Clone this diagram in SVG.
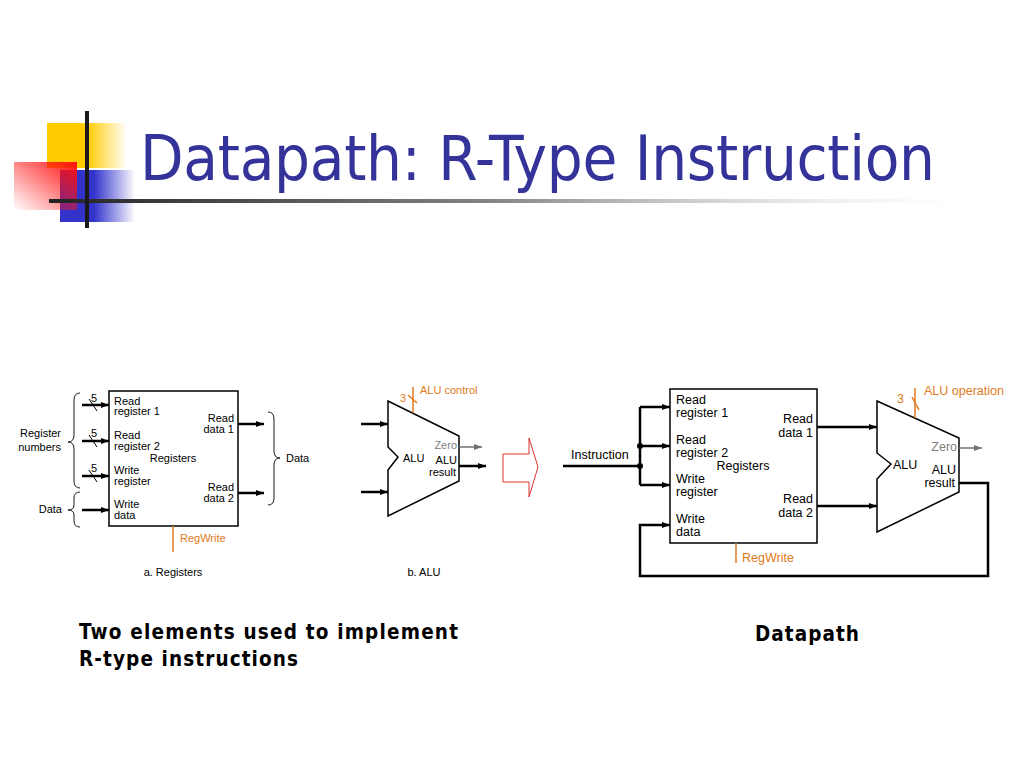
<svg xmlns="http://www.w3.org/2000/svg" width="1024" height="768" viewBox="0 0 1024 768">
<defs>
<linearGradient id="gY" x1="0" y1="0" x2="1" y2="0"><stop offset="0" stop-color="#FFCC00"/><stop offset="0.5" stop-color="#FFCC00"/><stop offset="1" stop-color="#FFCC00" stop-opacity="0"/></linearGradient>
<linearGradient id="gB" x1="0" y1="0" x2="1" y2="0"><stop offset="0" stop-color="#3333CC"/><stop offset="0.45" stop-color="#3333CC"/><stop offset="1" stop-color="#3333CC" stop-opacity="0"/></linearGradient>
<linearGradient id="gR" x1="1" y1="0" x2="0" y2="1"><stop offset="0" stop-color="#FF1010"/><stop offset="1" stop-color="#FF1010" stop-opacity="0"/></linearGradient>
<linearGradient id="gL" x1="0" y1="0" x2="1" y2="0"><stop offset="0" stop-color="#222222"/><stop offset="0.5" stop-color="#888888"/><stop offset="1" stop-color="#DDDDDD" stop-opacity="0"/></linearGradient>
<marker id="ah" viewBox="0 0 8 6" refX="8" refY="3" markerWidth="8" markerHeight="6" markerUnits="userSpaceOnUse" orient="auto"><path d="M0,0 L8,3 L0,6 z" fill="#000"/></marker>
<marker id="ahg" viewBox="0 0 8 6" refX="8" refY="3" markerWidth="8" markerHeight="6" markerUnits="userSpaceOnUse" orient="auto"><path d="M0,0 L8,3 L0,6 z" fill="#707070"/></marker>
</defs>
<style>
.t{font-family:"Liberation Sans",Arial,sans-serif;font-size:11px;fill:#000}
.t2{font-family:"Liberation Sans",Arial,sans-serif;font-size:12.5px;fill:#000}
.o{fill:#E07A20}
.g{fill:#808080}
.r{text-anchor:end}
.m{text-anchor:middle}
.box{fill:#fff;stroke:#000;stroke-width:1.5}
.w{fill:none;stroke:#000;stroke-width:2.5}
.wa{fill:none;stroke:#000;stroke-width:2.5;marker-end:url(#ah)}
.ga{fill:none;stroke:#707070;stroke-width:1.5;marker-end:url(#ahg)}
.ol{fill:none;stroke:#E07A20;stroke-width:1.5}
.thin{fill:none;stroke:#000;stroke-width:1}
.br{fill:none;stroke:#000;stroke-width:0.9}
.b{font-family:"DejaVu Sans Condensed","DejaVu Sans",Verdana,sans-serif;font-stretch:condensed;font-weight:bold;font-size:20.5px;fill:#000}
</style>
<rect width="1024" height="768" fill="#fff"/>
<g id="logo">
<rect x="47" y="123" width="80" height="45" fill="url(#gY)"/>
<rect x="60" y="170" width="75" height="52" fill="url(#gB)"/>
<rect x="14" y="162" width="63" height="48" fill="url(#gR)"/>
<rect x="49" y="199" width="911" height="4" fill="url(#gL)"/>
<rect x="85" y="111" width="4" height="117" fill="#1a1a1a"/>
</g>
<text id="title" x="140" y="180" font-family="DejaVu Sans Condensed, DejaVu Sans, Verdana, sans-serif" font-stretch="condensed" font-size="63" fill="#333399" textLength="795" lengthAdjust="spacing">Datapath: R-Type Instruction</text>

<g id="registers-a">
<rect class="box" x="109" y="391" width="129" height="135"/>
<text class="t" x="114" y="405">Read</text>
<text class="t" x="114" y="415">register 1</text>
<text class="t" x="114" y="439">Read</text>
<text class="t" x="114" y="450">register 2</text>
<text class="t" x="114" y="474">Write</text>
<text class="t" x="114" y="485">register</text>
<text class="t" x="114" y="508">Write</text>
<text class="t" x="114" y="519">data</text>
<text class="t m" x="173" y="462">Registers</text>
<text class="t r" x="234" y="422">Read</text>
<text class="t r" x="234" y="433">data 1</text>
<text class="t r" x="234" y="491">Read</text>
<text class="t r" x="234" y="502">data 2</text>
</g>
<g id="labels-a">
<text class="t r" x="61" y="437">Register</text>
<text class="t r" x="61" y="451">numbers</text>
<text class="t r" x="62" y="513">Data</text>
<text class="t" x="286" y="462">Data</text>
<text class="t" x="91" y="402">5</text>
<text class="t" x="91" y="437">5</text>
<text class="t" x="91" y="472">5</text>
<text class="t o" x="180" y="542">RegWrite</text>
<text class="t m" x="173" y="576">a. Registers</text>
<path class="br" d="M80,393 Q74,393 74,400 L74,435 Q74,442 68,442 Q74,442 74,449 L74,481 Q74,488 80,488"/>
<path class="br" d="M80,492 Q74,492 74,498 L74,505 Q74,510 68,510 Q74,510 74,515 L74,521 Q74,527 80,527"/>
<path class="br" d="M268,412 Q274,412 274,419 L274,451 Q274,458 280,458 Q274,458 274,465 L274,498 Q274,505 268,505"/>
</g>

<g id="alu-b">
<path class="box" d="M388,401 L459,436 L459,481 L388,516 L388,470 L398,457 L388,447 Z"/>
<text class="t" x="403" y="462">ALU</text>
<text class="t r" x="457" y="464">ALU</text>
<text class="t r" x="456" y="476">result</text>
<text class="t r g" x="457" y="449">Zero</text>
<text class="t o" x="400" y="402">3</text>
<text class="t o" x="420" y="394">ALU control</text>
<text class="t m" x="424" y="576">b. ALU</text>
</g>

<g id="bigarrow">
<path d="M503,454 L529,454 L529,438 L538,467 L529,497 L529,482 L503,482 Z" fill="#fff" stroke="#E03030" stroke-width="1"/>
</g>

<g id="registers-dp">
<rect class="box" x="670" y="389" width="147" height="154"/>
<text class="t2" x="676" y="404">Read</text>
<text class="t2" x="676" y="417">register 1</text>
<text class="t2" x="676" y="444">Read</text>
<text class="t2" x="676" y="457">register 2</text>
<text class="t2" x="676" y="483">Write</text>
<text class="t2" x="676" y="496">register</text>
<text class="t2" x="676" y="523">Write</text>
<text class="t2" x="676" y="536">data</text>
<text class="t2 m" x="743" y="470">Registers</text>
<text class="t2 r" x="813" y="423">Read</text>
<text class="t2 r" x="813" y="437">data 1</text>
<text class="t2 r" x="813" y="503">Read</text>
<text class="t2 r" x="813" y="517">data 2</text>
<text class="t2 o" x="742" y="562">RegWrite</text>
</g>

<g id="alu-dp">
<path class="box" d="M877,401 L959,438 L959,492 L877,532 L877,479 L891,464 L877,453 Z"/>
<text class="t2" x="893" y="469">ALU</text>
<text class="t2 r" x="956" y="474">ALU</text>
<text class="t2 r" x="955" y="487">result</text>
<text class="t2 r g" x="957" y="451">Zero</text>
<text class="t2 o" x="897" y="403">3</text>
<text class="t2 o" x="924" y="395">ALU operation</text>
</g>

<text id="instr" class="t2" x="571" y="459">Instruction</text>

<g id="connectors">
<path class="wa" d="M82,405 H109"/>
<path class="wa" d="M82,441 H109"/>
<path class="wa" d="M82,476 H109"/>
<path class="wa" d="M82,510 H109"/>
<path class="thin" d="M89,399 L97,411"/>
<path class="thin" d="M89,435 L97,447"/>
<path class="thin" d="M89,470 L97,482"/>
<path class="wa" d="M238,424 H264"/>
<path class="wa" d="M238,493 H264"/>
<path class="ol" d="M173,526 V552"/>

<path class="wa" d="M361,424 H388"/>
<path class="wa" d="M361,492 H388"/>
<path class="ol" d="M413,387 V413"/>
<path class="ol" d="M408,395 L417,403"/>
<path class="ga" d="M459,447 H482"/>
<path class="wa" d="M459,466 H486"/>

<path class="w" d="M563,466 H640"/>
<path class="w" d="M640,407 V485"/>
<path class="wa" d="M640,407 H670"/>
<path class="wa" d="M640,446 H670"/>
<path class="wa" d="M640,485 H670"/>
<circle cx="640" cy="446" r="3" fill="#000"/>
<circle cx="640" cy="466" r="3" fill="#000"/>
<path class="wa" d="M959,483 H988 V576 H640 V525 H670"/>
<path class="wa" d="M817,427 H877"/>
<path class="wa" d="M817,506 H877"/>
<path class="ga" d="M959,448 H982"/>
<path class="ol" d="M736,543 V563"/>
<path class="ol" d="M915,388 V418"/>
<path class="ol" d="M912,397 L919,410"/>
</g>

<g id="captions">
<text class="b" x="79" y="639" textLength="379" lengthAdjust="spacing">Two elements used to implement</text>
<text class="b" x="79" y="666" textLength="219" lengthAdjust="spacing">R-type instructions</text>
<text class="b" x="755" y="641" textLength="104" lengthAdjust="spacing">Datapath</text>
</g>
</svg>
